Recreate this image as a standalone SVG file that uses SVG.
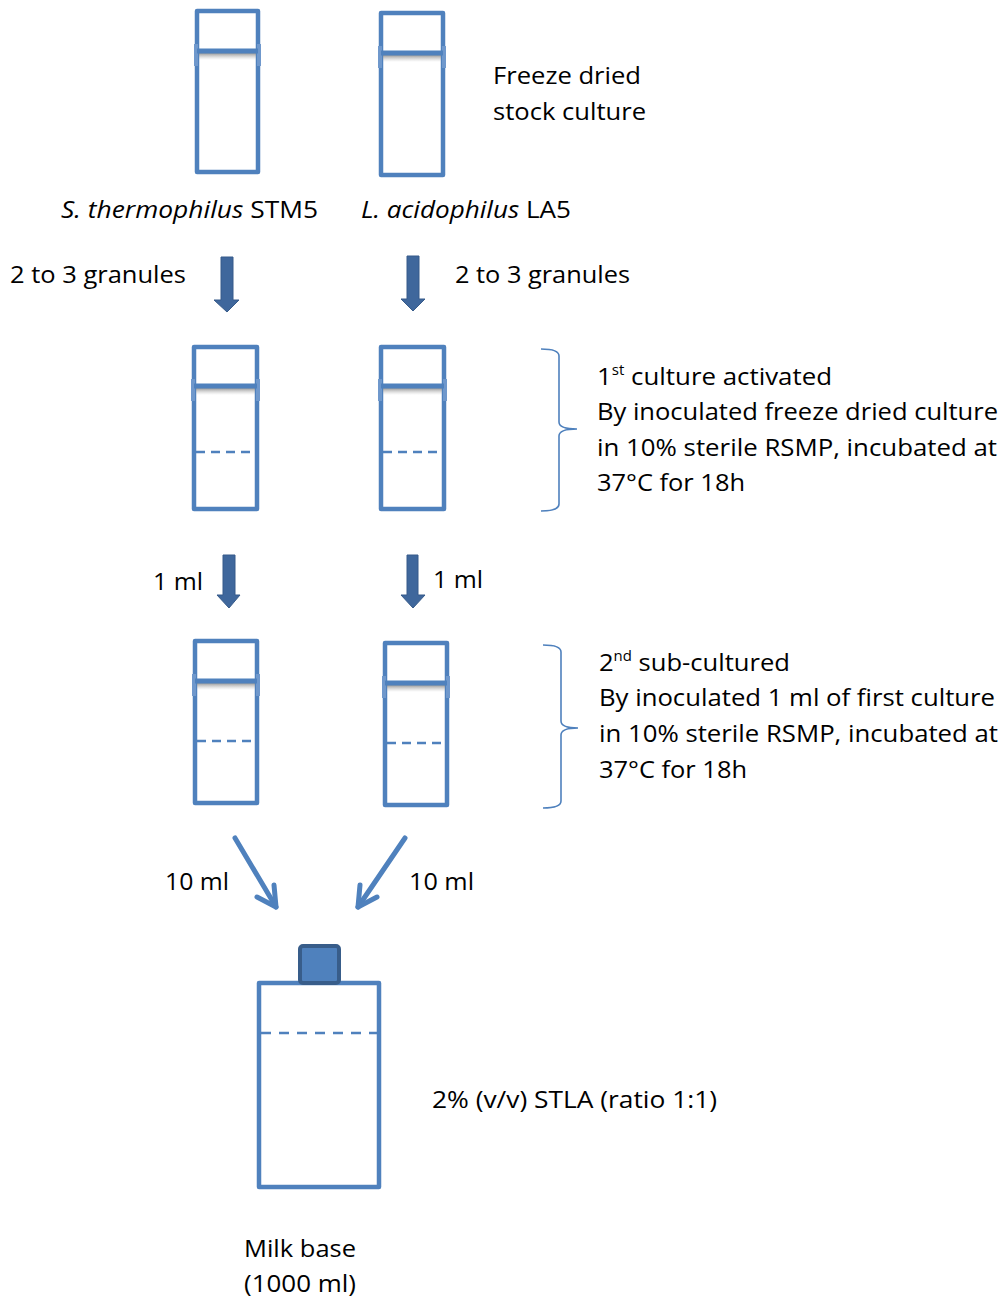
<svg xmlns="http://www.w3.org/2000/svg" width="1006" height="1301" viewBox="0 0 1006 1301">
<style>
text{font-family:"Open Sans","Liberation Sans",sans-serif;font-size:24px;fill:#000}
.tube{fill:none;stroke:#4f81bd;stroke-width:4.5;stroke-linejoin:round}
.cap{stroke:#4f81bd;stroke-width:5}
.tab{stroke:#6f98cc;stroke-width:4}
.dash{stroke:#4f81bd;stroke-width:2.5;stroke-dasharray:9 6}
.down{fill:#3f679c;stroke:#375b8a;stroke-width:1}
.diag{fill:none;stroke:#4f81bd;stroke-width:5;stroke-linecap:round;stroke-linejoin:round}
.brace{fill:none;stroke:#4f81bd;stroke-width:1.6}
.sup{font-size:14px}
</style>
<defs>
<linearGradient id="shadow" x1="0" y1="0" x2="0" y2="1">
<stop offset="0" stop-color="#7a7a7a" stop-opacity="0.8"/>
<stop offset="1" stop-color="#bbbbbb" stop-opacity="0"/>
</linearGradient>
</defs>

<g id="tube-st-stock">
<rect class="tube" x="197" y="11" width="61" height="161"/>
<rect x="199" y="53" width="57" height="7" fill="url(#shadow)"/>
<line class="tab" x1="196" y1="44" x2="196" y2="66"/>
<line class="tab" x1="259" y1="44" x2="259" y2="66"/>
<line class="cap" x1="197" y1="51" x2="258" y2="51"/>
</g>
<g id="tube-la-stock">
<rect class="tube" x="381" y="13" width="62" height="162"/>
<rect x="383" y="55" width="58" height="7" fill="url(#shadow)"/>
<line class="tab" x1="380" y1="46" x2="380" y2="68"/>
<line class="tab" x1="444" y1="46" x2="444" y2="68"/>
<line class="cap" x1="381" y1="53" x2="443" y2="53"/>
</g>
<g id="tube-st-1">
<rect class="tube" x="194" y="347" width="63" height="162"/>
<rect x="196" y="388" width="59" height="7" fill="url(#shadow)"/>
<line class="tab" x1="193" y1="379" x2="193" y2="401"/>
<line class="tab" x1="258" y1="379" x2="258" y2="401"/>
<line class="cap" x1="194" y1="386" x2="257" y2="386"/>
<line class="dash" x1="196" y1="452" x2="255" y2="452"/>
</g>
<g id="tube-la-1">
<rect class="tube" x="381" y="347" width="63" height="162"/>
<rect x="383" y="388" width="59" height="7" fill="url(#shadow)"/>
<line class="tab" x1="380" y1="379" x2="380" y2="401"/>
<line class="tab" x1="445" y1="379" x2="445" y2="401"/>
<line class="cap" x1="381" y1="386" x2="444" y2="386"/>
<line class="dash" x1="383" y1="452" x2="442" y2="452"/>
</g>
<g id="tube-st-2">
<rect class="tube" x="195" y="641" width="62" height="162"/>
<rect x="197" y="683" width="58" height="7" fill="url(#shadow)"/>
<line class="tab" x1="194" y1="674" x2="194" y2="696"/>
<line class="tab" x1="258" y1="674" x2="258" y2="696"/>
<line class="cap" x1="195" y1="681" x2="257" y2="681"/>
<line class="dash" x1="197" y1="741" x2="255" y2="741"/>
</g>
<g id="tube-la-2">
<rect class="tube" x="385" y="643" width="62" height="162"/>
<rect x="387" y="685" width="58" height="7" fill="url(#shadow)"/>
<line class="tab" x1="384" y1="676" x2="384" y2="698"/>
<line class="tab" x1="448" y1="676" x2="448" y2="698"/>
<line class="cap" x1="385" y1="683" x2="447" y2="683"/>
<line class="dash" x1="387" y1="743" x2="445" y2="743"/>
</g>
<g id="milk-base">
<rect class="tube" x="259" y="983" width="120" height="204"/>
<line class="dash" x1="261" y1="1033" x2="377" y2="1033" style="stroke-dasharray:10 8"/>
<line x1="310" y1="945" x2="323" y2="945" stroke="#375b8a" stroke-width="2"/>
<rect x="300" y="946" width="39" height="37" rx="3" fill="#4f81bd" stroke="#385d8a" stroke-width="4"/>
</g>

<g id="connectors">
<path class="down" d="M221,257 H233 V300 H239 L227,312 L214,300 H221 Z"/>
<path class="down" d="M407,256 H419 V299 H425 L413,311 L401,299 H407 Z"/>
<path class="down" d="M223,555 H235 V595 H240 L229,608 L217,595 H223 Z"/>
<path class="down" d="M407,555 H418 V595 H425 L413,608 L401,595 H407 Z"/>
<g class="diag">
<line x1="235" y1="838" x2="276" y2="907"/>
<polyline points="274,885 276,907 257,897"/>
<line x1="405" y1="838" x2="358" y2="907"/>
<polyline points="360,885 358,907 377,897"/>
</g>
<path class="brace" d="M541,349 Q559,349 559,356 V422 Q559,429 577,429 Q559,429 559,436 V504 Q559,511 541,511"/>
<path class="brace" d="M543,645 Q561,645 561,652 V721 Q561,728 578,728 Q561,728 561,735 V801 Q561,808 543,808"/>
</g>

<g id="labels">
<text x="493" y="84" textLength="148" lengthAdjust="spacingAndGlyphs">Freeze dried</text>
<text x="493" y="120" textLength="153" lengthAdjust="spacingAndGlyphs">stock culture</text>
<text x="61" y="218" textLength="257" lengthAdjust="spacingAndGlyphs"><tspan font-style="italic">S. thermophilus</tspan> STM5</text>
<text x="361" y="218" textLength="210" lengthAdjust="spacingAndGlyphs"><tspan font-style="italic">L. acidophilus</tspan> LA5</text>
<text x="10" y="283" textLength="176" lengthAdjust="spacingAndGlyphs">2 to 3 granules</text>
<text x="455" y="283" textLength="175" lengthAdjust="spacingAndGlyphs">2 to 3 granules</text>
<text x="597" y="385" textLength="235" lengthAdjust="spacingAndGlyphs">1<tspan class="sup" dy="-10">st</tspan><tspan dy="10"> culture activated</tspan></text>
<text x="597" y="420" textLength="401" lengthAdjust="spacingAndGlyphs">By inoculated freeze dried culture</text>
<text x="597" y="456" textLength="400" lengthAdjust="spacingAndGlyphs">in 10% sterile RSMP, incubated at</text>
<text x="597" y="491" textLength="148" lengthAdjust="spacingAndGlyphs">37°C for 18h</text>
<text x="153" y="590" textLength="50" lengthAdjust="spacingAndGlyphs">1 ml</text>
<text x="433" y="588" textLength="50" lengthAdjust="spacingAndGlyphs">1 ml</text>
<text x="599" y="671" textLength="191" lengthAdjust="spacingAndGlyphs">2<tspan class="sup" dy="-10">nd</tspan><tspan dy="10"> sub-cultured</tspan></text>
<text x="599" y="706" textLength="396" lengthAdjust="spacingAndGlyphs">By inoculated 1 ml of first culture</text>
<text x="599" y="742" textLength="399" lengthAdjust="spacingAndGlyphs">in 10% sterile RSMP, incubated at</text>
<text x="599" y="778" textLength="148" lengthAdjust="spacingAndGlyphs">37°C for 18h</text>
<text x="165" y="890" textLength="64" lengthAdjust="spacingAndGlyphs">10 ml</text>
<text x="409" y="890" textLength="65" lengthAdjust="spacingAndGlyphs">10 ml</text>
<text x="432" y="1108" textLength="285" lengthAdjust="spacingAndGlyphs">2% (v/v) STLA (ratio 1:1)</text>
<text x="244" y="1257" textLength="112" lengthAdjust="spacingAndGlyphs">Milk base</text>
<text x="244" y="1292" textLength="112" lengthAdjust="spacingAndGlyphs">(1000 ml)</text>
</g>
</svg>
